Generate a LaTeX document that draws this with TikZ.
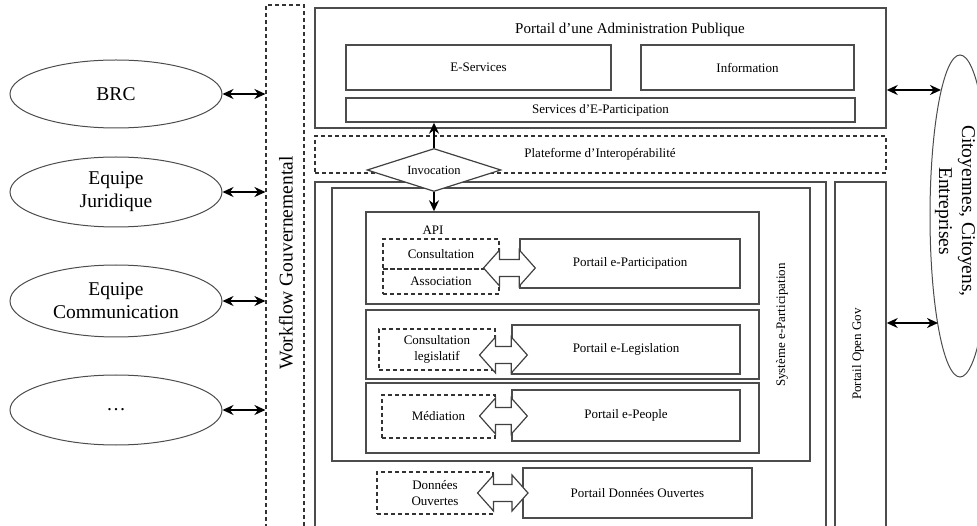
\documentclass[tikz,border=0pt]{standalone}
\usepackage{fontspec}
\setmainfont{Liberation Serif}
\usetikzlibrary{shapes.geometric,arrows.meta,calc}
\newcommand\fnorm{\fontsize{13}{15.6}\selectfont}
\newcommand\finv{\fontsize{12.5}{15}\selectfont}
\newcommand\ftitle{\fontsize{15}{18}\selectfont}
\newcommand\fbig{\fontsize{19.5}{23}\selectfont}
\newcommand\bigdarrow[3]{%
  \draw[bigarrow] let \p1=(#1.east), \p2=(#2.west), \p3=(#3) in
  (\x1-16pt,\y3) -- (\x1,\y3+18pt) -- (\x1,\y3+8.5pt) -- (\x2,\y3+8.5pt) -- (\x2,\y3+18pt)
  -- (\x2+16pt,\y3) -- (\x2,\y3-18pt) -- (\x2,\y3-8.5pt) -- (\x1,\y3-8.5pt) -- (\x1,\y3-18pt) -- cycle;}
\begin{document}
\begin{tikzpicture}[x=1pt,y=-1pt,
  bx/.style={draw=black!70, line width=1.4pt, rectangle, inner sep=0pt, align=center, font=\fnorm},
  dbx/.style={draw=black!80, line width=1.1pt, dash pattern=on 4pt off 3pt, rectangle, inner sep=0pt, align=center, font=\fnorm},
  ell/.style={ellipse, draw=black!70, line width=1pt, inner sep=0pt, align=center, font=\fbig},
  lbl/.style={inner sep=0pt, align=center, font=\fnorm},
  biarr/.style={{Stealth[length=11pt,width=10pt]}-{Stealth[length=11pt,width=10pt]}, line width=2pt},
  onearr/.style={-{Stealth[length=11pt,width=10pt]}, line width=2pt},
  bigarrow/.style={draw=black!75, line width=1.2pt, fill=white, line join=miter}]
\useasboundingbox (0,0) rectangle (977,526);
\clip (0,0) rectangle (977,526);

% left ellipses
\node[ell, minimum width=212, minimum height=68] (brc) at (116,94) {BRC};
\node[ell, minimum width=212, minimum height=70] (jur) at (116,192) {Equipe\\Juridique};
\node[ell, minimum width=212, minimum height=72] (com) at (116,301) {Equipe\\Communication};
\node[ell, minimum width=212, minimum height=70] (dots) at (116,410) {\ldots};

% workflow
\node[dbx, minimum width=38, minimum height=595] (wf) at (285,302.5) {};
\node[lbl, font=\fbig, rotate=90] (wft) at (286,263) {Workflow Gouvernemental};

% portal administration
\node[bx, minimum width=571, minimum height=120] (adm) at (600.5,68) {};
\node[lbl, font=\ftitle] (admt) at (630,30) {Portail d’une Administration Publique};
\node[bx, minimum width=265, minimum height=45] (eserv) at (478.5,67.5) {E-Services};
\node[bx, minimum width=213, minimum height=45] (info) at (747.5,67.5) {Information};
\node[bx, minimum width=509, minimum height=24] (sep) at (600.5,110) {Services d’E-Participation};

% platform
\node[dbx, minimum width=571, minimum height=37] (plat) at (600.5,154.5) {};
\node[lbl] (platt) at (600,154) {Plateforme d’Interopérabilité};

% outer boxes
\node[bx, minimum width=511, minimum height=418] (outer) at (570.5,391) {};
\node[bx, minimum width=51, minimum height=418] (og) at (860.5,391) {};
\node[lbl, rotate=90] (ogt) at (858,354) {Portail Open Gov};
\node[bx, minimum width=478, minimum height=273] (sys) at (571,324.5) {};
\node[lbl, rotate=90] (syst) at (782,325) {Système e-Participation};

% API block
\node[bx, minimum width=393, minimum height=92] (api) at (562.5,258) {};
\node[lbl] (apit) at (433,230) {API};
\node[dbx, minimum width=116, minimum height=30] (cons) at (441,254) {Consultation};
\node[dbx, minimum width=116, minimum height=25] (assoc) at (441,281.5) {Association};
\node[bx, minimum width=220, minimum height=49] (pep) at (630,263.5) {Portail e-Participation};

% legislation block
\node[bx, minimum width=393, minimum height=69] (leg) at (562.5,344.5) {};
\node[dbx, minimum width=116, minimum height=41] (clg) at (437,349.5) {Consultation\\legislatif};
\node[bx, minimum width=228, minimum height=49] (pel) at (626,349.5) {Portail e-Legislation};

% people block
\node[bx, minimum width=393, minimum height=70] (peo) at (562.5,418) {};
\node[dbx, minimum width=113, minimum height=43] (med) at (438.5,416.5) {Médiation};
\node[bx, minimum width=228, minimum height=51] (ppeo) at (626,415.5) {Portail e-People};

% open data
\node[dbx, minimum width=116, minimum height=42] (don) at (435,493) {Données\\Ouvertes};
\node[bx, minimum width=229, minimum height=50] (pdon) at (637.5,493) {Portail Données Ouvertes};

% big double arrows
\coordinate (ya) at (0,268);
\coordinate (yb) at (0,355);
\coordinate (yc) at (0,416);
\coordinate (yd) at (0,493);
\coordinate (donr) at (512,493);
\bigdarrow{cons}{pep}{ya}
\bigdarrow{clg}{pel}{yb}
\bigdarrow{med}{ppeo}{yc}
\bigdarrow{don}{donr}{yd}

% invocation diamond
\node[diamond, aspect=3.1, draw=black!75, line width=1.2pt, fill=white, inner sep=0pt,
      minimum width=134, minimum height=43, font=\finv] (inv) at (434,170) {Invocation};
\draw[onearr] (inv.north) -- (inv.north |- sep.south);
\draw[onearr] (inv.south) -- (inv.south |- api.north);

% citizens ellipse
\node[ellipse, draw=black!70, line width=1pt, minimum width=60, minimum height=322] (cit) at (960,216) {};
\node[lbl, font=\fbig, rotate=-90] (citt) at (955,211) {Citoyennes, Citoyens,\\Entreprises};
\coordinate (c1) at (941,90);
\coordinate (c2) at (938,323);

% connectors
\draw[biarr] (brc.east) -- (brc.east -| wf.west);
\draw[biarr] (jur.east) -- (jur.east -| wf.west);
\draw[biarr] (com.east) -- (com.east -| wf.west);
\draw[biarr] (dots.east) -- (dots.east -| wf.west);
\draw[biarr] (adm.east |- c1) -- (c1);
\draw[biarr] (og.east |- c2) -- (c2);
\end{tikzpicture}
\end{document}
